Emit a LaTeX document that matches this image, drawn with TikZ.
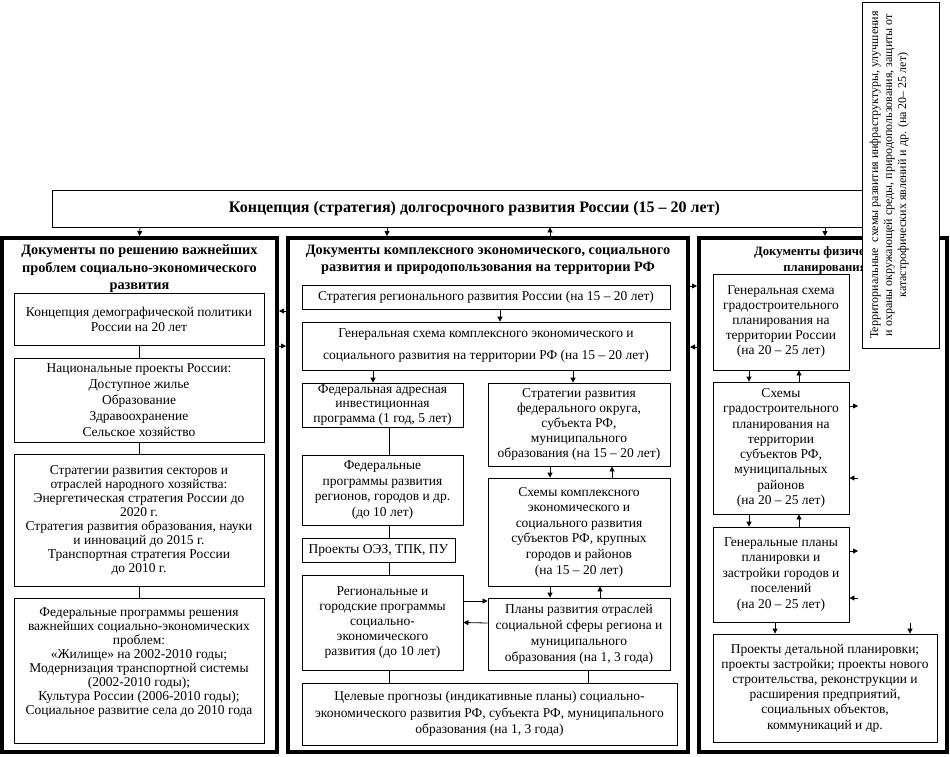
\documentclass[tikz,border=0pt]{standalone}
\usepackage{fontspec}
\setmainfont{Liberation Serif}
\usetikzlibrary{arrows.meta}
\begin{document}
\begin{tikzpicture}[x=1pt,y=-1pt,
  box/.style={draw,line width=.8pt,fill=white,align=center,inner xsep=2pt,inner ysep=.5pt,font=\fontsize{13.5}{15}\selectfont},
  col/.style={draw,line width=4pt,minimum height=514pt},
  ttl/.style={align=center,font=\bfseries\fontsize{14.3}{17.5}\selectfont},
  arr/.style={line width=.8pt,-{Triangle[length=5pt,width=5pt]}},
  lnk/.style={line width=.8pt}]
  \useasboundingbox (0,0) rectangle (950,756);
  % top
  \node[box,minimum width=845pt,minimum height=37pt,font=\bfseries\fontsize{16}{18}\selectfont] (top) at (474.5,208.5) {Концепция (стратегия) долгосрочного развития России (15 -- 20 лет)};
  \node[col,minimum width=275pt] (colL) at (139.5,495) {}; \node[col,minimum width=400pt] (colM) at (488,495) {}; \node[col,minimum width=248pt] (colR) at (823,495) {};
  \node[ttl] (ttlL) at (139.5,269) {Документы по решению важнейших\\проблем социально-экономического\\развития};
  \node[ttl] (ttlM) at (488,260) {Документы комплексного экономического, социального\\развития и природопользования на территории РФ};
  \node[ttl,font=\bfseries\fontsize{12.7}{16}\selectfont] (ttlR) at (825,260) {Документы физического\\планирования};
  % left column
  \node[box,minimum width=250pt,minimum height=52pt] (L1) at (139,319) {Концепция демографической политики\\России на 20 лет};
  \node[box,minimum width=250pt,minimum height=84pt,font=\fontsize{13.5}{16}\selectfont] (L2) at (139,400) {Национальные проекты России:\\Доступное жилье\\Образование\\Здравоохранение\\Сельское хозяйство};
  \node[box,minimum width=250pt,minimum height=132pt,font=\fontsize{13.5}{14}\selectfont] (L3) at (139,520) {Стратегии развития секторов и\\отраслей народного хозяйства:\\Энергетическая стратегия России до\\2020 г.\\Стратегия развития образования, науки\\и инноваций до 2015 г.\\Транспортная стратегия России\\до 2010 г.};
  \node[box,minimum width=250pt,minimum height=145pt,text depth=18pt,font=\fontsize{13.5}{14}\selectfont] (L4) at (139,670.5) {Федеральные программы решения\\важнейших социально-экономических\\проблем:\\«Жилище» на 2002-2010 годы;\\Модернизация транспортной системы\\(2002-2010 годы);\\Культура России (2006-2010 годы);\\Социальное развитие села до 2010 года};
  \draw[lnk] (L1) -- (L2); \draw[lnk] (L2) -- (L3); \draw[lnk] (L3) -- (L4);
  % middle column
  \node[box,minimum width=368pt,minimum height=24pt] (M1) at (486,297) {Стратегия регионального развития России (на 15 -- 20 лет)};
  \node[box,minimum width=368pt,minimum height=48pt,font=\fontsize{13.5}{22}\selectfont] (M2) at (486,346) {Генеральная схема комплексного экономического и\\социального развития на территории РФ (на 15 -- 20 лет)};
  \node[box,minimum width=161pt,minimum height=44pt,font=\fontsize{13.5}{14.5}\selectfont] (M3) at (382.5,405) {Федеральная адресная\\инвестиционная\\программа (1 год, 5 лет)};
  \node[box,minimum width=182pt,minimum height=83pt] (M4) at (579,424.5) {Стратегии развития\\федерального округа,\\субъекта РФ,\\муниципального\\образования (на 15 -- 20 лет)};
  \node[box,minimum width=161pt,minimum height=70pt,font=\fontsize{13.5}{15.5}\selectfont] (M5) at (382.5,490) {Федеральные\\программы развития\\регионов, городов и др.\\(до 10 лет)};
  \node[box,minimum width=153pt,minimum height=24pt] (M6) at (378.5,550) {Проекты ОЭЗ, ТПК, ПУ};
  \node[box,minimum width=161pt,minimum height=95pt] (M7) at (382.5,622.5) {Региональные и\\городские программы\\социально-\\экономического\\развития (до 10 лет)};
  \node[box,minimum width=182pt,minimum height=108pt,font=\fontsize{13.5}{15.6}\selectfont] (M8) at (579,532) {Схемы комплексного\\экономического и\\социального развития\\субъектов РФ, крупных\\городов и районов\\(на 15 -- 20 лет)};
  \node[box,minimum width=182pt,minimum height=72pt,font=\fontsize{13.5}{16}\selectfont] (M9) at (579,634) {Планы развития отраслей\\социальной сферы региона и\\муниципального\\образования (на 1, 3 года)};
  \node[box,minimum width=375pt,minimum height=62pt,font=\fontsize{13.5}{16.5}\selectfont] (M10) at (489.5,714) {Целевые прогнозы (индикативные планы) социально-\\экономического развития РФ, субъекта РФ, муниципального\\образования (на 1, 3 года)};
  \draw[arr] ([xshift=14pt]M1.south) -- ([xshift=14pt]M2.north);
  \draw[arr] ([xshift=-113pt]M2.south) -- ([xshift=-9.5pt]M3.north); \draw[arr] ([xshift=87pt]M2.south) -- ([xshift=-6pt]M4.north);
  \draw[lnk] ([xshift=6.5pt]M3.south) -- ([xshift=6.5pt]M5.north); \draw[lnk] ([xshift=6.5pt]M5.south) -- ([xshift=10.5pt]M6.north);
  \draw[lnk] ([xshift=10.5pt]M6.south) -- ([xshift=6.5pt]M7.north); \draw[lnk] ([xshift=6.5pt]M7.south) -- ([xshift=-100.5pt]M10.north);
  \draw[lnk] ([xshift=9pt]M9.south) -- ([xshift=98.5pt]M10.north);
  \draw[arr] ([xshift=-29pt]M4.south) -- ([xshift=-29pt]M8.north); \draw[arr] ([xshift=33pt]M8.north) -- ([xshift=33pt]M4.south);
  \draw[arr] ([xshift=-29pt]M8.south) -- ([xshift=-29pt]M9.north); \draw[arr] ([xshift=21pt]M9.north) -- ([xshift=21pt]M8.south);
  \draw[arr] ([yshift=21.5pt]M7.east) -- ([yshift=33pt]M9.west); \draw[arr] ([yshift=11pt]M9.west) -- (M7.east);
  % right column
  \node[box,minimum width=136pt,minimum height=96pt] (R1) at (781,322) {Генеральная схема\\градостроительного\\планирования на\\территории России\\(на 20 -- 25 лет)};
  \node[box,minimum width=136pt,minimum height=132pt,font=\fontsize{13.5}{15.3}\selectfont] (R2) at (781,448) {Схемы\\градостроительного\\планирования на\\территории\\субъектов РФ,\\муниципальных\\районов\\(на 20 -- 25 лет)};
  \node[box,minimum width=136pt,minimum height=95pt,font=\fontsize{13.5}{15.5}\selectfont] (R3) at (781,574.5) {Генеральные планы\\планировки и\\застройки городов и\\поселений\\(на 20 -- 25 лет)};
  \node[box,minimum width=224pt,minimum height=108pt,font=\fontsize{13.5}{15.2}\selectfont] (R4) at (825,688) {Проекты детальной планировки;\\проекты застройки; проекты нового\\строительства, реконструкции и\\расширения предприятий,\\социальных объектов,\\коммуникаций и др.};
  \draw[arr] ([xshift=-32pt]R1.south) -- ([xshift=-32pt]R2.north); \draw[arr] ([xshift=18pt]R2.north) -- ([xshift=18pt]R1.south);
  \draw[arr] ([xshift=-32pt]R2.south) -- ([xshift=-32pt]R3.north); \draw[arr] ([xshift=18pt]R3.north) -- ([xshift=18pt]R2.south);
  \draw[arr] ([xshift=-6pt]R3.south) -- ([xshift=-50pt]R4.north);
  \coordinate (r2out) at (858,406); \coordinate (r2in) at (858,478); \coordinate (r3out) at (858,551); \coordinate (r3in) at (858,598); \coordinate (r4in) at (910,623);
  \draw[arr] ([yshift=42pt]R2.east) -- (r2out); \draw[arr] (r2in) -- ([yshift=-30pt]R2.east);
  \draw[arr] ([yshift=23.5pt]R3.east) -- (r3out); \draw[arr] (r3in) -- ([yshift=-23.5pt]R3.east);
  \draw[arr] (r4in) -- ([xshift=85pt]R4.north);
  % between blocks
  \draw[arr] ([xshift=-334.5pt]top.south) -- (colL.north); \draw[arr] ([xshift=-87.5pt]top.south) -- ([xshift=-101pt]colM.north);
  \draw[arr] ([xshift=62pt]colM.north) -- ([xshift=75.5pt]top.south); \draw[arr] ([xshift=350.5pt]top.south) -- ([xshift=2pt]colR.north);
  \draw[arr] ([yshift=184pt]colM.west) -- ([yshift=184pt]colL.east); \draw[arr] ([yshift=149pt]colL.east) -- ([yshift=149pt]colM.west);
  \draw[arr] ([yshift=209pt]colM.east) -- ([yshift=209pt]colR.west); \draw[arr] ([yshift=148pt]colR.west) -- ([yshift=148pt]colM.east);
  % rotated note
  \node[draw,line width=.8pt,fill=white,rotate=90,minimum width=346pt,minimum height=77pt] (terr) at (900.5,175) {};
  \node[rotate=90,anchor=north,align=center,inner sep=8pt,font=\fontsize{12}{14}\selectfont] (terrtxt) at (terr.north) {Территориальные\ \ схемы развития инфраструктуры, улучшения\\и охраны окружающей среды, природопользования, защиты от\\катастрофических явлений и др. (на 20-- 25 лет)};
\end{tikzpicture}
\end{document}
